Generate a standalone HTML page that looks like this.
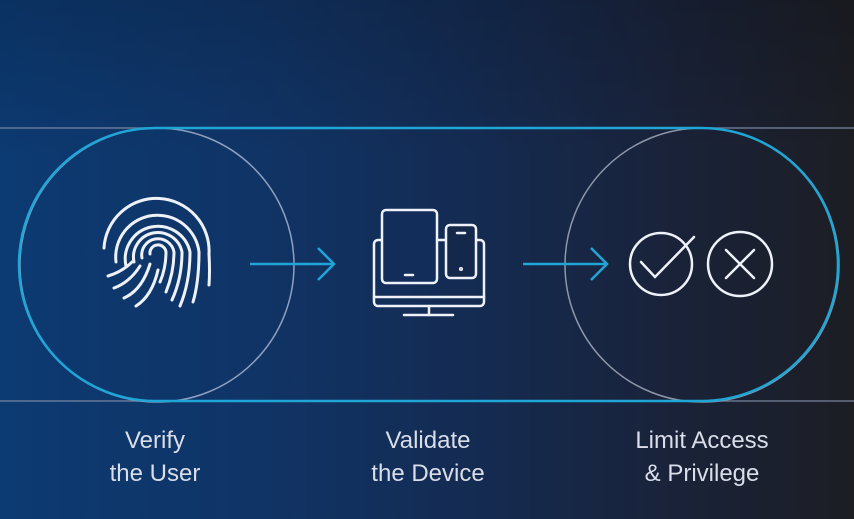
<!DOCTYPE html>
<html><head><style>
html,body{margin:0;padding:0}
body{width:854px;height:519px;overflow:hidden;background:linear-gradient(90deg,#0c3a72 0%,#103466 30%,#142b52 55%,#1a2238 80%,#1c1e24 100%);position:relative;font-family:"Liberation Sans",sans-serif}
.t{position:absolute;color:#d9dee8;font-size:24px;line-height:33px;text-align:center;width:220px}
</style></head><body>
<svg width="854" height="519" style="position:absolute;left:0;top:0">
<defs><linearGradient id="v" x1="0" y1="0" x2="0" y2="1"><stop offset="0" stop-color="#000" stop-opacity=".15"/><stop offset="0.3" stop-color="#000" stop-opacity="0"/><stop offset="1" stop-color="#000" stop-opacity="0"/></linearGradient></defs>
<rect width="854" height="519" fill="url(#v)"/>
<line x1="0" y1="128" x2="854" y2="128" stroke="#7d8aa3" stroke-width="1.5" opacity=".8"/>
<line x1="0" y1="401" x2="854" y2="401" stroke="#7d8aa3" stroke-width="1.5" opacity=".8"/>
<circle cx="157" cy="265" r="137" fill="none" stroke="#8fa0c0" stroke-width="1.5"/>
<circle cx="702" cy="265" r="137" fill="none" stroke="#8f97a8" stroke-width="1.5"/>
<rect x="19" y="128" width="819" height="273" rx="136.5" fill="none" stroke="#1fa6d6" stroke-width="2.5"/>
<g stroke="#1fa6d6" stroke-width="2.5" fill="none">
<line x1="250" y1="264" x2="334" y2="264"/><polyline points="318,248 334,264 318,280"/>
<line x1="523" y1="264" x2="607" y2="264"/><polyline points="591,248 607,264 591,280"/>
</g>
<g stroke="#eef2f8" stroke-width="3" fill="none" stroke-linecap="round">
<path d="M150,254 A8 8 0 0 1 166,252 Q166,268 160,282"/>
<path d="M142,258 A16 16 0 0 1 174,252 Q174,272 166,292"/>
<path d="M134,262 A24 24 0 0 1 182,252 Q182,278 172,300"/>
<path d="M126,266 A32 32 0 0 1 190,252 Q190,282 180,306"/>
<path d="M116,262 A41 41 0 0 1 199,252 Q199,282 193,302"/>
<path d="M104,248 A52 52 0 0 1 209,254 Q210,272 209,285"/>
<path d="M108,276 Q122,272 132,262"/>
<path d="M114,288 Q130,282 140,266"/>
<path d="M124,298 Q142,290 150,264"/>
<path d="M136,306 Q152,296 158,270"/>
</g>
<g stroke="#eef2f8" stroke-width="2.5" fill="none" stroke-linecap="round">
<rect x="374" y="240" width="110" height="66" rx="4"/>
<line x1="374" y1="297" x2="484" y2="297"/>
<line x1="429" y1="306" x2="429" y2="315"/>
<line x1="404" y1="315" x2="453" y2="315"/>
<rect x="382" y="210" width="55" height="73" rx="4" fill="#122d5a"/>
<rect x="446" y="225" width="30" height="53" rx="4" fill="#14284c"/>
<line x1="405" y1="275" x2="413" y2="275"/>
<line x1="457" y1="233" x2="465" y2="233"/>
<circle cx="461" cy="269" r="0.8"/>
<circle cx="661" cy="264" r="31"/>
<polyline points="641,262 655,277 694,237"/>
<circle cx="740" cy="264" r="32"/>
<line x1="726" y1="250" x2="754" y2="278"/><line x1="754" y1="250" x2="726" y2="278"/>
</g>
</svg>
<div class="t" style="left:45px;top:424px">Verify<br>the User</div>
<div class="t" style="left:318px;top:424px">Validate<br>the Device</div>
<div class="t" style="left:592px;top:424px">Limit Access<br>&amp; Privilege</div>
</body></html>
